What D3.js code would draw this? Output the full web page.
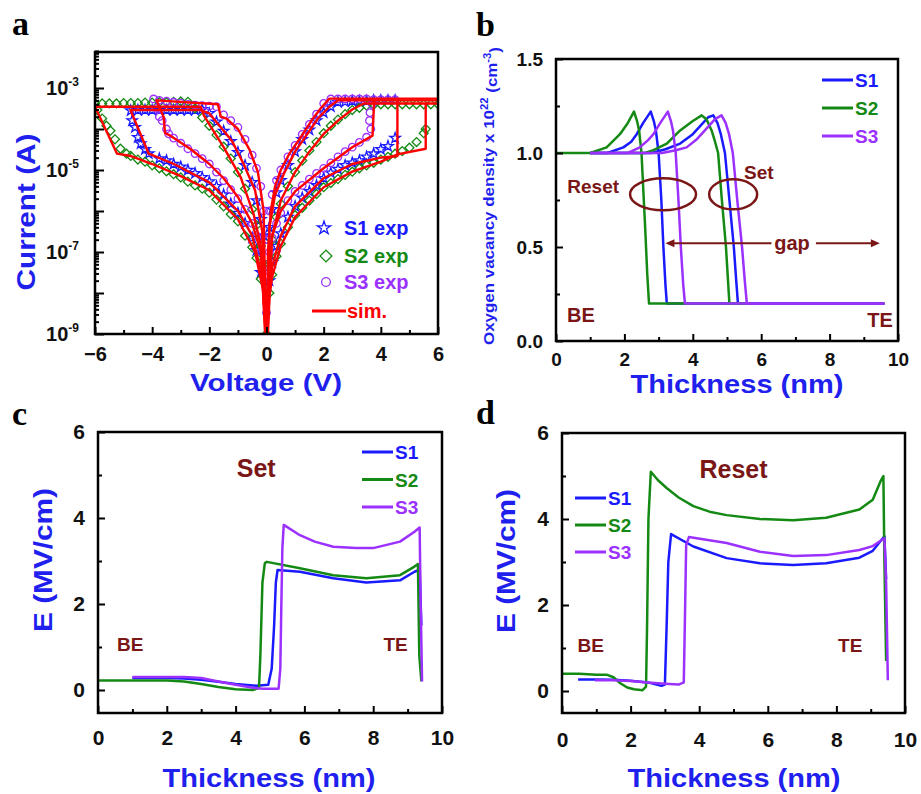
<!DOCTYPE html>
<html>
<head>
<meta charset="utf-8">
<script src="https://cdn.jsdelivr.net/npm/d3@7"></script>
<style>
body { margin: 0; background: #fff; }
svg { display: block; }
</style>
</head>
<body>
<svg id="fig" width="921" height="794"></svg>
<script>
// ---- panel a : I-V loops, [voltage (V), current (A)]
var s1Exp = [[0.1,2.0e-8],[0.2,5.6e-8],[0.35,1.4e-7],[0.5,2.8e-7],[0.75,7.1e-7],[1.0,1.3e-6],[1.25,2.1e-6],[1.5,3.0e-6],[1.75,4.2e-6],[2.0,6.3e-6],[2.25,8.5e-6],[2.5,1.05e-5],[2.75,1.3e-5],[3.0,1.5e-5],[3.25,1.7e-5],[3.5,2.1e-5],[3.75,2.5e-5],[4.0,3.2e-5],[4.25,3.8e-5],[4.5,6.0e-5],
  [4.5,5.0e-4],[4.25,5.0e-4],[4.0,5.0e-4],[3.75,5.0e-4],[3.5,4.8e-4],[3.25,4.8e-4],[3.0,4.8e-4],[2.75,4.6e-4],[2.5,4.5e-4],
  [2.25,3.5e-4],[2.0,2.5e-4],[1.75,1.6e-4],[1.5,9.5e-5],[1.25,5.6e-5],[1.0,2.8e-5],[0.75,1.3e-5],[0.5,5.6e-6],[0.35,2.8e-6],[0.2,1.1e-6],[0.1,4.0e-7],
  [-0.1,2.5e-7],[-0.2,6.3e-7],[-0.35,1.8e-6],[-0.5,5.0e-6],[-0.75,1.3e-5],[-1.0,2.7e-5],[-1.25,5.0e-5],[-1.5,8.9e-5],[-1.75,1.5e-4],[-2.0,2.4e-4],[-2.25,3.0e-4],
  [-2.5,2.9e-4],[-2.75,2.9e-4],[-3.0,2.9e-4],[-3.25,2.9e-4],[-3.5,2.9e-4],[-3.75,2.9e-4],[-4.0,2.9e-4],[-4.25,2.9e-4],[-4.5,2.9e-4],[-4.75,2.8e-4],
  [-4.7,1.6e-4],[-4.6,1.1e-4],[-4.5,6.3e-5],[-4.4,4.4e-5],[-4.25,3.2e-5],[-4.12,2.5e-5],
  [-3.75,1.9e-5],[-3.5,1.7e-5],[-3.25,1.4e-5],[-3.0,1.2e-5],[-2.75,1.0e-5],[-2.5,8.3e-6],[-2.25,6.6e-6],[-2.0,5.2e-6],[-1.75,4.0e-6],[-1.5,2.5e-6],[-1.25,1.5e-6],[-1.0,8.9e-7],[-0.75,5.0e-7],[-0.5,2.2e-7],[-0.35,1.1e-7],[-0.2,3.2e-8]];

var s2Exp = [[0.1,1.0e-8],[0.2,2.8e-8],[0.35,7.9e-8],[0.5,1.6e-7],[0.75,4.0e-7],[1.0,7.9e-7],[1.25,1.2e-6],[1.5,1.8e-6],[1.75,2.6e-6],[2.0,3.8e-6],[2.25,4.8e-6],[2.5,6.0e-6],[2.75,7.6e-6],[3.0,9.1e-6],[3.25,1.1e-5],[3.5,1.3e-5],[3.75,1.5e-5],[4.0,1.8e-5],[4.25,2.1e-5],[4.5,2.5e-5],[4.75,2.9e-5],[5.0,3.5e-5],[5.25,4.8e-5],[5.5,7.9e-5],[5.57,1.0e-4],
  [6.0,4.0e-4],[5.75,4.0e-4],[5.5,4.0e-4],[5.25,4.0e-4],[5.0,4.0e-4],[4.75,4.0e-4],[4.5,4.0e-4],[4.25,4.0e-4],[4.0,4.0e-4],[3.75,3.9e-4],[3.5,3.7e-4],
  [3.25,3.3e-4],[3.0,2.9e-4],[2.75,2.3e-4],[2.5,1.7e-4],[2.25,1.2e-4],[2.0,7.9e-5],[1.75,4.8e-5],[1.5,3.0e-5],[1.25,1.7e-5],[1.0,8.9e-6],[0.75,4.0e-6],[0.5,1.5e-6],[0.35,7.1e-7],[0.2,2.0e-7],[0.1,5.0e-8],
  [-0.1,5.0e-8],[-0.2,1.4e-7],[-0.35,4.5e-7],[-0.5,1.1e-6],[-0.75,3.5e-6],[-1.0,8.9e-6],[-1.25,1.9e-5],[-1.5,3.7e-5],[-1.75,7.1e-5],[-2.0,1.2e-4],[-2.25,1.9e-4],[-2.5,3.2e-4],[-2.75,4.6e-4],
  [-3.0,4.7e-4],[-3.25,4.6e-4],[-3.5,4.5e-4],[-3.75,4.5e-4],[-4.0,4.4e-4],[-4.25,4.4e-4],[-4.5,4.3e-4],[-4.75,4.3e-4],[-5.0,4.3e-4],[-5.25,4.2e-4],[-5.5,4.2e-4],[-5.75,4.2e-4],[-6.0,4.2e-4],
  [-5.92,2.9e-4],[-5.75,1.8e-4],[-5.6,1.2e-4],[-5.46,9.1e-5],[-5.3,5.6e-5],[-5.11,3.3e-5],[-4.9,2.5e-5],[-4.75,2.2e-5],[-4.5,1.8e-5],[-4.25,1.6e-5],[-4.0,1.3e-5],[-3.75,1.1e-5],[-3.5,9.3e-6],[-3.25,7.9e-6],[-3.0,6.6e-6],[-2.75,5.2e-6],[-2.5,4.2e-6],[-2.25,3.5e-6],[-2.0,2.8e-6],[-1.75,1.9e-6],[-1.5,1.3e-6],[-1.25,8.3e-7],[-1.0,5.6e-7],[-0.75,2.5e-7],[-0.5,1.3e-7],[-0.35,7.1e-8],[-0.2,2.2e-8],[0,1.0e-9]];

var s3Exp = [[0.1,1.0e-7],[0.2,2.2e-7],[0.35,5.0e-7],[0.5,8.9e-7],[0.75,1.8e-6],[1.0,3.0e-6],[1.25,4.2e-6],[1.5,6.0e-6],[1.75,8.3e-6],[2.0,1.1e-5],[2.25,1.5e-5],[2.5,2.1e-5],[2.75,2.8e-5],[3.0,3.6e-5],[3.25,4.7e-5],[3.5,6.3e-5],[3.65,1.0e-4],[3.6,1.6e-4],[3.62,2.5e-4],[3.7,4.0e-4],
  [3.75,5.2e-4],[4.0,5.2e-4],[4.25,5.2e-4],[4.5,5.2e-4],[3.5,5.4e-4],[3.25,5.4e-4],[3.0,5.4e-4],[2.75,5.4e-4],[2.5,5.4e-4],[2.25,5.4e-4],
  [2.0,4.2e-4],[1.75,2.3e-4],[1.5,1.3e-4],[1.25,7.4e-5],[1.0,4.0e-5],[0.75,2.1e-5],[0.5,1.0e-5],[0.35,5.6e-6],[0.2,2.5e-6],[0.1,1.0e-6],[0.03,2.0e-7],
  [-0.03,2.0e-7],[-0.1,1.0e-6],[-0.2,4.0e-6],[-0.35,1.1e-5],[-0.5,2.3e-5],[-0.75,5.6e-5],[-1.0,1.1e-4],[-1.25,1.6e-4],[-1.5,2.2e-4],[-1.75,3.5e-4],[-2.0,3.6e-4],[-2.25,3.7e-4],[-2.5,3.8e-4],[-2.75,4.0e-4],[-3.0,4.3e-4],[-3.25,4.5e-4],[-3.5,4.8e-4],[-3.75,5.0e-4],[-3.95,5.4e-4],
  [-3.85,3.2e-4],[-3.75,2.0e-4],[-3.65,1.6e-4],[-3.5,1.0e-4],[-3.42,7.6e-5],[-3.25,6.0e-5],[-3.0,4.5e-5],[-2.75,3.3e-5],[-2.5,2.5e-5],[-2.25,1.9e-5],[-2.0,1.4e-5],[-1.75,8.9e-6],[-1.5,5.5e-6],[-1.25,3.3e-6],[-1.0,2.0e-6],[-0.75,1.1e-6],[-0.5,5.0e-7],[-0.35,2.5e-7],[-0.2,1.0e-7],[-0.09,3.4e-8],[0,3.3e-9]];

var s1Sim = [[0.03,1e-9],[0.1,1.0e-8],[0.2,4.5e-8],[0.5,2.5e-7],[1.0,1.3e-6],[2.0,6.3e-6],[3.0,1.4e-5],[4.0,2.0e-5],[4.58,2.2e-5],[4.58,5.0e-4],[6.0,5.0e-4],[2.5,5.0e-4],[2.2,3.5e-4],[1.8,1.8e-4],[1.4,7.1e-5],[1.0,2.8e-5],[0.6,7.9e-6],[0.3,2.5e-6],[0.1,4.0e-7],[0.03,1e-9],
  [-0.03,1e-9],[-0.15,3.2e-7],[-0.4,3.2e-6],[-0.8,1.4e-5],[-1.2,5.0e-5],[-1.6,1.1e-4],[-2.0,2.4e-4],[-2.3,2.9e-4],[-4.76,2.9e-4],[-4.12,2.5e-5],[-3.24,1.4e-5],[-2.0,5.0e-6],[-1.0,1.0e-6],[-0.5,2.5e-7],[-0.15,2.5e-8],[-0.03,1e-9]];
var s2Sim = [[0.05,1e-9],[0.1,8e-9],[0.2,2.5e-8],[0.5,1.4e-7],[1.0,7.1e-7],[2.0,3.8e-6],[3.0,9.1e-6],[4.0,1.6e-5],[4.58,2.4e-5],[5.57,3.3e-5],[5.57,4.2e-4],[6.0,4.2e-4],[3.4,4.2e-4],[3.0,3.0e-4],[2.5,1.6e-4],[2.0,7.6e-5],[1.5,2.8e-5],[1.0,8.9e-6],[0.5,1.8e-6],[0.2,2.5e-7],[0.05,1e-9],
  [-0.05,1e-9],[-0.2,1.4e-7],[-0.45,8.3e-7],[-0.9,6.6e-6],[-1.5,3.6e-5],[-2.0,1.3e-4],[-2.2,2.2e-4],[-2.3,3.5e-4],[-6.0,3.5e-4],[-5.23,2.5e-5],[-4.76,2.2e-5],[-4.0,1.4e-5],[-3.0,7.1e-6],[-2.0,3.2e-6],[-1.0,6.3e-7],[-0.4,1.0e-7],[-0.1,1.0e-8],[-0.05,1e-9]];
var s3Sim = [[0.02,1e-9],[0.05,3e-8],[0.2,2.5e-7],[0.5,1.0e-6],[1.0,3.0e-6],[2.0,1.1e-5],[3.0,3.6e-5],[3.71,6.9e-5],[3.77,5.5e-4],[6.0,5.5e-4],[2.2,5.5e-4],[1.9,3.2e-4],[1.6,1.7e-4],[1.2,6.3e-5],[0.8,2.5e-5],[0.5,1.0e-5],[0.3,4.0e-6],[0.15,1.0e-6],[0.05,1.0e-7],[0.02,1e-9],
  [-0.02,1e-9],[-0.1,1.0e-6],[-0.3,8.9e-6],[-0.6,3.2e-5],[-1.0,1.0e-4],[-1.4,1.8e-4],[-1.6,2.0e-4],[-1.7,4.0e-4],[-3.85,5.0e-4],[-3.6,2.0e-4],[-3.55,7.9e-5],[-3.4,7.1e-5],[-2.65,3.2e-5],[-2.0,1.4e-5],[-1.5,6.3e-6],[-1.0,2.2e-6],[-0.5,5.0e-7],[-0.2,1.0e-7],[-0.02,1e-9]];

// ---- panel b : oxygen vacancy density (x1e22 cm^-3) vs thickness (nm)
var vacS1Reset = [[1.0,1.0],[1.5,1.0],[1.97,1.03],[2.2,1.06],[2.36,1.1],[2.55,1.16],[2.77,1.22],[2.86,1.17],[2.92,1.12],[3.0,1.0],[3.08,0.75],[3.14,0.5],[3.2,0.3],[3.24,0.2],[9.6,0.2]];
var vacS2Reset = [[0,1.0],[1.0,1.0],[1.48,1.03],[1.87,1.1],[2.1,1.16],[2.28,1.22],[2.37,1.17],[2.43,1.12],[2.5,1.0],[2.6,0.63],[2.67,0.35],[2.72,0.2],[9.6,0.2]];
var vacS3Reset = [[1.0,1.0],[2.1,1.0],[2.45,1.03],[2.7,1.07],[2.85,1.1],[3.05,1.16],[3.27,1.22],[3.36,1.17],[3.42,1.12],[3.5,1.0],[3.58,0.75],[3.65,0.5],[3.72,0.3],[3.77,0.2],[9.6,0.2]];
var vacS1Set = [[1.0,1.0],[2.8,1.0],[3.2,1.02],[3.63,1.05],[4.0,1.1],[4.2,1.14],[4.45,1.19],[4.6,1.2],[4.72,1.16],[4.82,1.1],[4.94,1.0],[5.07,0.75],[5.2,0.5],[5.27,0.32],[5.32,0.2],[9.6,0.2]];
var vacS2Set = [[1.0,1.0],[2.6,1.0],[2.85,1.015],[3.24,1.05],[3.63,1.12],[4.0,1.17],[4.26,1.2],[4.4,1.18],[4.55,1.12],[4.65,1.06],[4.74,1.0],[4.85,0.75],[4.97,0.5],[5.03,0.32],[5.07,0.2],[9.6,0.2]];
var vacS3Set = [[1.0,1.0],[3.1,1.0],[3.5,1.015],[3.82,1.03],[4.1,1.07],[4.4,1.13],[4.65,1.18],[4.84,1.2],[4.96,1.16],[5.06,1.1],[5.17,1.0],[5.3,0.75],[5.44,0.5],[5.52,0.32],[5.58,0.2],[9.6,0.2]];

// ---- panel c : E field at set (MV/cm) vs thickness (nm)
var setS1 = [[1.0,0.28],[2.0,0.28],[2.5,0.27],[3.0,0.24],[3.5,0.19],[4.0,0.14],[4.6,0.1],[4.95,0.12],[5.05,0.5],[5.12,1.5],[5.17,2.5],[5.22,2.79],[5.87,2.75],[6.84,2.6],[7.8,2.5],[8.78,2.55],[9.2,2.75],[9.35,2.8],[9.4,1.5]];
var setS2 = [[0,0.22],[1.0,0.22],[2.0,0.22],[2.5,0.2],[3.0,0.14],[3.5,0.07],[4.0,0.02],[4.5,0.0],[4.68,0.05],[4.72,0.8],[4.78,2.5],[4.85,2.95],[4.91,2.98],[5.87,2.83],[6.84,2.67],[7.8,2.6],[8.78,2.67],[9.2,2.87],[9.3,2.93],[9.34,0.8],[9.4,0.2]];
var setS3 = [[1.0,0.3],[2.0,0.3],[2.5,0.3],[3.0,0.28],[3.5,0.2],[4.0,0.12],[4.5,0.05],[4.8,0.03],[5.25,0.03],[5.3,0.5],[5.33,2.0],[5.36,3.3],[5.4,3.84],[5.87,3.6],[6.3,3.45],[6.84,3.33],[7.5,3.3],[8.0,3.3],[8.78,3.45],[9.2,3.68],[9.35,3.78],[9.38,2.0],[9.42,0.2]];

// ---- panel d : E field at reset (MV/cm) vs thickness (nm)
var resetS1 = [[0.47,0.27],[1.0,0.27],[1.5,0.26],[2.0,0.24],[2.5,0.2],[2.9,0.12],[3.0,0.15],[3.05,1.5],[3.1,3.0],[3.18,3.65],[3.83,3.36],[4.8,3.09],[5.77,2.97],[6.74,2.93],[7.7,2.97],[8.67,3.1],[9.06,3.26],[9.3,3.5],[9.4,3.6],[9.45,2.6]];
var resetS2 = [[0,0.4],[0.5,0.4],[1.0,0.38],[1.3,0.38],[1.5,0.32],[1.7,0.18],[1.9,0.08],[2.1,0.04],[2.35,0.02],[2.45,0.1],[2.48,1.5],[2.52,4.0],[2.59,5.1],[2.8,4.9],[3.05,4.72],[3.4,4.5],[3.83,4.3],[4.3,4.17],[4.8,4.09],[5.77,4.0],[6.74,3.97],[7.7,4.03],[8.67,4.22],[9.06,4.45],[9.3,4.9],[9.37,5.0],[9.4,3.0],[9.45,0.7]];
var resetS3 = [[0.96,0.25],[1.5,0.25],[2.0,0.23],[2.5,0.2],[3.0,0.17],[3.4,0.15],[3.55,0.2],[3.58,1.5],[3.62,3.4],[3.7,3.58],[4.8,3.44],[5.77,3.24],[6.74,3.14],[7.7,3.16],[8.67,3.28],[9.06,3.37],[9.3,3.5],[9.4,3.55],[9.45,2.5],[9.5,0.25]];

var sampleNames = ["S1", "S2", "S3"];
var sampleColors = ["#1a1aff", "#148a14", "#9b30ff"];
var simColor = "#ff0000";
var maroon = "#7a1616";
var titleBlue = "#1f1fee";
var FONT = "'Liberation Sans', Arial, Helvetica, sans-serif";
var SERIF = "'Liberation Serif', 'Times New Roman', serif";

var fig = d3.select("#fig");

function styleAxis(sel, fs) {
    sel.attr("font-size", fs).attr("font-family", FONT).attr("font-weight", "bold");
    sel.select(".domain").remove();
    sel.selectAll(".tick line").attr("stroke", "#000").attr("stroke-width", 2);
    sel.selectAll(".tick text").attr("fill", "#111");
}

function xTicks(g, x, h, major, minor, fs, pad) {
    g.append("g").attr("transform", "translate(0," + h + ")")
        .call(d3.axisBottom(x).tickValues(minor).tickSize(-4).tickFormat(""))
        .call(styleAxis, fs);
    g.append("g").attr("transform", "translate(0," + h + ")")
        .call(d3.axisBottom(x).tickValues(major).tickSize(-7).tickPadding(pad).tickFormat(d3.format("d")))
        .call(styleAxis, fs);
}

function yTicks(g, y, major, minor, fmt, fs, pad) {
    g.append("g")
        .call(d3.axisLeft(y).tickValues(minor).tickSize(-4).tickFormat(""))
        .call(styleAxis, fs);
    g.append("g")
        .call(d3.axisLeft(y).tickValues(major).tickSize(-7).tickPadding(pad).tickFormat(fmt))
        .call(styleAxis, fs);
}

function frame(g, w, h) {
    g.append("rect").attr("width", w).attr("height", h)
        .attr("fill", "none").attr("stroke", "#000").attr("stroke-width", 2.5);
}

function label(txt, x, y, fs, color, anchor) {
    return fig.append("text").attr("x", x).attr("y", y)
        .attr("font-family", FONT).attr("font-weight", "bold").attr("font-size", fs)
        .attr("fill", color).attr("text-anchor", anchor || "start").text(txt);
}

function title(txt, x, y, len, rotate, fs) {
    var t = fig.append("text")
        .attr("font-family", FONT).attr("font-weight", "bold").attr("font-size", fs || 25)
        .attr("fill", titleBlue).attr("text-anchor", "middle")
        .attr("textLength", len).attr("lengthAdjust", "spacingAndGlyphs");
    if (rotate) t.attr("transform", "translate(" + x + "," + y + ") rotate(-90)");
    else t.attr("x", x).attr("y", y);
    t.text(txt);
    return t;
}

function panelLetter(ch, x, y) {
    fig.append("text").attr("x", x).attr("y", y)
        .attr("font-family", SERIF).attr("font-weight", "bold").attr("font-size", 34)
        .attr("fill", "#000").text(ch);
}

function lineLegend(g, x0, y0, dy) {
    sampleNames.forEach(function (s, i) {
        g.append("line").attr("x1", x0).attr("x2", x0 + 31)
            .attr("y1", y0 + i * dy).attr("y2", y0 + i * dy)
            .attr("stroke", sampleColors[i]).attr("stroke-width", 3);
        g.append("text").attr("x", x0 + 33).attr("y", y0 + i * dy + 7)
            .attr("font-family", FONT).attr("font-weight", "bold").attr("font-size", 19)
            .attr("fill", sampleColors[i]).text(s);
    });
}

// ================= panel a =================
(function () {
    var L = 95, T = 52, W = 343, H = 282;
    var g = fig.append("g").attr("transform", "translate(" + L + "," + T + ")");
    var x = d3.scaleLinear().domain([-6, 6]).range([0, W]);
    var y = d3.scaleLog().domain([1e-9, 1e-3]).range([H, 36]);

    g.append("clipPath").attr("id", "clipA").append("rect").attr("width", W).attr("height", H);
    var plot = g.append("g").attr("clip-path", "url(#clipA)");

    var shapes = [
        d3.symbol().type(d3.symbolStar).size(34),
        d3.symbol().type(d3.symbolSquare).size(40),
        d3.symbol().type(d3.symbolCircle).size(44)
    ];
    var rot = [0, 45, 0];
    [s1Exp, s2Exp, s3Exp].forEach(function (data, i) {
        plot.append("g").selectAll("path").data(data).enter().append("path")
            .attr("d", shapes[i])
            .attr("transform", function (d) {
                return "translate(" + x(d[0]) + "," + y(d[1]) + ") rotate(" + rot[i] + ")";
            })
            .attr("fill", "none").attr("stroke", sampleColors[i]).attr("stroke-width", 1.3);
    });

    var line = d3.line().x(function (d) { return x(d[0]); }).y(function (d) { return y(d[1]); });
    [s1Sim, s2Sim, s3Sim].forEach(function (data) {
        plot.append("path").datum(data).attr("d", line)
            .attr("fill", "none").attr("stroke", simColor).attr("stroke-width", 2.4)
            .attr("stroke-linejoin", "round");
    });

    // ticks
    var decades = [-9, -8, -7, -6, -5, -4, -3];
    var minor = [];
    decades.forEach(function (e) {
        for (var m = 2; m <= 9; m++) minor.push(m * Math.pow(10, e));
    });
    minor = minor.filter(function (v) { return v < Math.pow(10, -2.09); });
    g.append("g").call(d3.axisLeft(y).tickValues(minor).tickSize(-4).tickFormat("")).call(styleAxis, 20);
    g.append("g").call(d3.axisLeft(y).tickValues(decades.map(function (e) { return Math.pow(10, e); }))
        .tickSize(-9).tickFormat("")).call(styleAxis, 20);
    [-9, -7, -5, -3].forEach(function (e) {
        var t = g.append("text").attr("x", -16).attr("y", y(Math.pow(10, e))).attr("dy", "0.36em")
            .attr("text-anchor", "end").attr("font-family", FONT).attr("font-weight", "bold")
            .attr("font-size", 20).attr("fill", "#111");
        t.append("tspan").text("10");
        t.append("tspan").attr("font-size", 12).attr("dy", "-0.75em").text(e);
    });
    xTicks(g, x, H, [-6, -4, -2, 0, 2, 4, 6], [-5, -3, -1, 1, 3, 5], 20, 13);
    frame(g, W, H);

    // legend
    var lg = fig.append("g");
    var lx = 324, ly = [228, 256, 282];
    var legShapes = [
        d3.symbol().type(d3.symbolStar).size(55),
        d3.symbol().type(d3.symbolSquare).size(70),
        d3.symbol().type(d3.symbolCircle).size(60)
    ];
    [0, 1, 2].forEach(function (i) {
        lg.append("path").attr("d", legShapes[i])
            .attr("transform", "translate(" + (lx + (i ? 2 : 0)) + "," + ly[i] + ") rotate(" + rot[i] + ")")
            .attr("fill", "none").attr("stroke", sampleColors[i]).attr("stroke-width", 1.3);
        label(sampleNames[i] + " exp", 344, ly[i] + 7, 20, sampleColors[i]);
    });
    lg.append("line").attr("x1", 312).attr("x2", 346).attr("y1", 311).attr("y2", 311)
        .attr("stroke", simColor).attr("stroke-width", 3);
    label("sim.", 347, 318, 20, simColor);

    title("Voltage (V)", 266, 391, 152, false, 24);
    title("Current (A)", 35, 212, 157, true, 25);
    panelLetter("a", 12, 35);
})();

// ================= panel b =================
(function () {
    var L = 556, T = 59, W = 342, H = 282;
    var g = fig.append("g").attr("transform", "translate(" + L + "," + T + ")");
    var x = d3.scaleLinear().domain([0, 10]).range([0, W]);
    var y = d3.scaleLinear().domain([0, 1.5]).range([H, 0]);
    var line = d3.line().x(function (d) { return x(d[0]); }).y(function (d) { return y(d[1]); });

    var curves = [[vacS1Reset, vacS1Set], [vacS2Reset, vacS2Set], [vacS3Reset, vacS3Set]];
    curves.forEach(function (pair, i) {
        pair.forEach(function (data) {
            g.append("path").datum(data).attr("d", line)
                .attr("fill", "none").attr("stroke", sampleColors[i]).attr("stroke-width", 2.5)
                .attr("stroke-linejoin", "round");
        });
    });

    // annotations
    g.append("ellipse").attr("cx", x(3.13)).attr("cy", y(0.78)).attr("rx", 33).attr("ry", 16)
        .attr("fill", "none").attr("stroke", maroon).attr("stroke-width", 2.5);
    g.append("ellipse").attr("cx", x(5.18)).attr("cy", y(0.78)).attr("rx", 24).attr("ry", 15)
        .attr("fill", "none").attr("stroke", maroon).attr("stroke-width", 2.5);
    var ay = y(0.52);
    g.append("line").attr("x1", x(3.3)).attr("x2", x(6.3)).attr("y1", ay).attr("y2", ay)
        .attr("stroke", maroon).attr("stroke-width", 2);
    g.append("line").attr("x1", x(7.6)).attr("x2", x(9.35)).attr("y1", ay).attr("y2", ay)
        .attr("stroke", maroon).attr("stroke-width", 2);
    var xl = x(3.2), xr = x(9.47);
    g.append("path").attr("d", "M" + xl + "," + ay + "l9,-4l0,8z").attr("fill", maroon);
    g.append("path").attr("d", "M" + xr + "," + ay + "l-9,-4l0,8z").attr("fill", maroon);
    g.append("text").attr("x", x(6.9)).attr("y", ay + 7).attr("text-anchor", "middle")
        .attr("font-family", FONT).attr("font-weight", "bold").attr("font-size", 20)
        .attr("fill", maroon).text("gap");
    g.append("text").attr("x", x(0.33)).attr("y", y(0.8)).attr("dy", "0.1em")
        .attr("font-family", FONT).attr("font-weight", "bold").attr("font-size", 19)
        .attr("fill", maroon).text("Reset");
    g.append("text").attr("x", x(5.5)).attr("y", y(0.86))
        .attr("font-family", FONT).attr("font-weight", "bold").attr("font-size", 19)
        .attr("fill", maroon).text("Set");
    g.append("text").attr("x", x(0.32)).attr("y", y(0.1))
        .attr("font-family", FONT).attr("font-weight", "bold").attr("font-size", 20)
        .attr("fill", maroon).text("BE");
    g.append("text").attr("x", x(9.1)).attr("y", y(0.075))
        .attr("font-family", FONT).attr("font-weight", "bold").attr("font-size", 20)
        .attr("fill", maroon).text("TE");

    xTicks(g, x, H, [0, 2, 4, 6, 8, 10], [1, 3, 5, 7, 9], 19, 12);
    yTicks(g, y, [0, 0.5, 1.0, 1.5], [0.25, 0.75, 1.25], d3.format(".1f"), 19, 13);
    frame(g, W, H);
    lineLegend(fig, 822, 80, 28);

    title("Thickness (nm)", 737, 393, 213, false, 25);
    var t = fig.append("text")
        .attr("transform", "translate(494,196) rotate(-90)")
        .attr("font-family", FONT).attr("font-weight", "bold").attr("font-size", 15)
        .attr("fill", titleBlue).attr("text-anchor", "middle")
        .attr("textLength", 298).attr("lengthAdjust", "spacingAndGlyphs");
    t.append("tspan").text("Oxygen vacancy density x 10");
    t.append("tspan").attr("font-size", 10).attr("dy", "-0.6em").text("22");
    t.append("tspan").attr("dy", "0.6em").text(" (cm");
    t.append("tspan").attr("font-size", 10).attr("dy", "-0.6em").text("-3");
    t.append("tspan").attr("dy", "0.6em").text(")");
    panelLetter("b", 476, 36);
})();

// ================= panels c & d =================
function fieldPanel(L, T, W, H, series, legendPos, head, letterPos, titles) {
    var g = fig.append("g").attr("transform", "translate(" + L + "," + T + ")");
    var x = d3.scaleLinear().domain([0, 10]).range([0, W]);
    var y = d3.scaleLinear().domain([0, 6]).range([258, 0]);
    var line = d3.line().x(function (d) { return x(d[0]); }).y(function (d) { return y(d[1]); });
    series.forEach(function (data, i) {
        g.append("path").datum(data).attr("d", line)
            .attr("fill", "none").attr("stroke", sampleColors[i]).attr("stroke-width", 2.5)
            .attr("stroke-linejoin", "round");
    });
    xTicks(g, x, H, [0, 2, 4, 6, 8, 10], [1, 3, 5, 7, 9], 21, head.pad);
    yTicks(g, y, [0, 2, 4, 6], [1, 3, 5], d3.format("d"), 21, 13);
    frame(g, W, H);
    lineLegend(fig, legendPos[0], legendPos[1], legendPos[2]);

    g.append("text").attr("x", x(head.x)).attr("y", y(head.y)).attr("text-anchor", "middle")
        .attr("font-family", FONT).attr("font-weight", "bold").attr("font-size", 25)
        .attr("fill", maroon).text(head.text);
    g.append("text").attr("x", x(head.be)).attr("y", y(0.9))
        .attr("font-family", FONT).attr("font-weight", "bold").attr("font-size", 19)
        .attr("fill", maroon).text("BE");
    g.append("text").attr("x", x(head.te)).attr("y", y(0.9))
        .attr("font-family", FONT).attr("font-weight", "bold").attr("font-size", 19)
        .attr("fill", maroon).text("TE");

    title("Thickness (nm)", titles[0], titles[1], 213, false, 25);
    title("E (MV/cm)", titles[2], titles[3], 144, true, 26);
    panelLetter(letterPos[0], letterPos[1], letterPos[2]);
}

fieldPanel(98, 432, 344, 281, [setS1, setS2, setS3], [362, 452, 27.5],
    { text: "Set", x: 4.6, y: 4.95, be: 0.55, te: 8.3, pad: 17 },
    ["c", 12, 425], [269, 787, 52, 560]);
fieldPanel(562, 433, 343, 280, [resetS1, resetS2, resetS3], [575, 498, 27],
    { text: "Reset", x: 5.0, y: 4.95, be: 0.45, te: 8.05, pad: 19 },
    ["d", 476, 424], [734, 787, 515, 561]);
</script>
</body>
</html>
